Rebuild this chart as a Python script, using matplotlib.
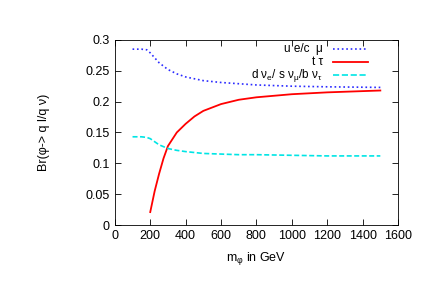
import matplotlib
matplotlib.use('Agg')
import matplotlib.pyplot as plt

plt.rcParams['font.family'] = ['Liberation Sans', 'DejaVu Sans']
plt.rcParams['mathtext.fontset'] = 'custom'
plt.rcParams['mathtext.rm'] = 'Liberation Sans'
plt.rcParams['mathtext.it'] = 'Liberation Sans'
plt.rcParams['mathtext.default'] = 'regular'

# branching ratios vs scalar mass
mass_ue = [100, 150, 180, 200, 225, 250, 300, 350, 400, 500, 600, 700, 800, 1000, 1200, 1500]
br_ue = [0.285, 0.285, 0.284, 0.279, 0.271, 0.263, 0.252, 0.245, 0.240, 0.234, 0.231, 0.229, 0.227, 0.225, 0.224, 0.223]

mass_t = [200, 225, 250, 275, 300, 350, 400, 450, 500, 600, 700, 800, 1000, 1200, 1500]
br_t = [0.021, 0.055, 0.083, 0.108, 0.128, 0.150, 0.164, 0.176, 0.185, 0.196, 0.203, 0.207, 0.212, 0.215, 0.218]

mass_d = [100, 150, 180, 200, 225, 250, 300, 350, 400, 500, 600, 700, 800, 1000, 1200, 1500]
br_d = [0.143, 0.143, 0.142, 0.140, 0.135, 0.130, 0.124, 0.121, 0.119, 0.116, 0.115, 0.114, 0.114, 0.113, 0.112, 0.112]

labels = ['u e/c  μ', 't τ', 'd ν$_e$/ s ν$_μ$/b ν$_τ$']
colors = ['#2b2bff', '#ff0000', '#00e5e5']

fig = plt.figure(figsize=(4.35, 3.07), dpi=100)
ax = fig.add_axes([0.264, 0.267, 0.651, 0.603])

l1, = ax.plot(mass_ue, br_ue, color=colors[0], linestyle=':', linewidth=1.2)
l2, = ax.plot(mass_t, br_t, color=colors[1], linestyle='-', linewidth=1.3)
l3, = ax.plot(mass_d, br_d, color=colors[2], linestyle=(0, (3, 1.5)), linewidth=1.2)

# gnuplot-style key: text right aligned, sample to the right
rows = [0.950, 0.882, 0.808]
for line, lab, yy in zip([l1, l2, l3], labels, rows):
    ax.text(0.735, yy, lab, transform=ax.transAxes, ha='right', va='center', fontsize=8.5)
    ax.plot([0.77, 0.894], [yy, yy], transform=ax.transAxes, color=line.get_color(),
            linestyle=line.get_linestyle(), linewidth=line.get_linewidth())

ax.set_xlim(0, 1600)
ax.set_ylim(0, 0.3)
ax.set_xticks(range(0, 1601, 200))
ax.set_yticks([0, 0.05, 0.1, 0.15, 0.2, 0.25, 0.3])
ax.set_yticklabels(['0', '0.05', '0.1', '0.15', '0.2', '0.25', '0.3'])
ax.tick_params(direction='in', top=True, right=True, labelsize=9, length=4, width=0.6)
for s in ax.spines.values():
    s.set_linewidth(0.6)

ax.set_xlabel('m$_φ$ in GeV', fontsize=9, labelpad=6)
ax.set_ylabel('Br(φ-> q l/q ν)', fontsize=9, labelpad=26)

fig.savefig('out.png', dpi=100)
